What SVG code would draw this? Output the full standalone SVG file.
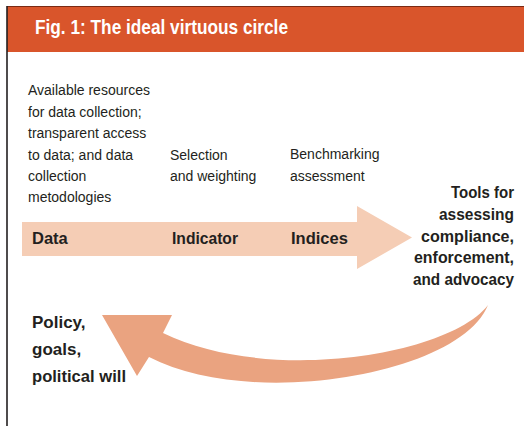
<svg xmlns="http://www.w3.org/2000/svg" width="524" height="426" viewBox="0 0 524 426">
<style>
.t{font-family:"Liberation Sans",Arial,sans-serif;fill:#231F20}
.n{font-size:14px}
.b{font-size:16.5px;font-weight:bold}
.p{font-size:17px;font-weight:bold}
.r{text-anchor:end}
</style>
<rect x="0" y="0" width="524" height="426" fill="#ffffff"/>
<g id="frame">
<rect x="7" y="6" width="517" height="46" fill="#D9552B"/>
<line x1="7" y1="6.5" x2="524" y2="6.5" stroke="#7a2a14" stroke-width="1"/>
<line x1="7" y1="6" x2="7" y2="426" stroke="#231F20" stroke-width="1.6"/>
<text x="35" y="33.5" class="t" style="font-size:21px;font-weight:bold;fill:#ffffff" textLength="253" lengthAdjust="spacingAndGlyphs">Fig. 1: The ideal virtuous circle</text>
</g>
<g id="connectors">
<path id="forward-arrow" d="M22,222 H357 V206 L412,237.5 L357,269 V256 H22 Z" fill="#F5CDB5"/>
<path id="return-arrow" d="M488,305 C450,355 270,385 163,333 L172,315 L102,315 L137,376 L149,357 C250,410 460,375 488,305 Z" fill="#EAA380"/>
</g>
<g id="node-data">
<text class="t n" x="28" y="95">Available resources</text>
<text class="t n" x="28" y="116.5">for data collection;</text>
<text class="t n" x="28" y="138">transparent access</text>
<text class="t n" x="28" y="159.5">to data; and data</text>
<text class="t n" x="28" y="181">collection</text>
<text class="t n" x="28" y="202">metodologies</text>
<text class="t b" x="32" y="243.5">Data</text>
</g>
<g id="node-indicator">
<text class="t n" x="170" y="159.5">Selection</text>
<text class="t n" x="170" y="181">and weighting</text>
<text class="t b" x="172" y="243.5" textLength="66" lengthAdjust="spacingAndGlyphs">Indicator</text>
</g>
<g id="node-indices">
<text class="t n" x="290" y="159">Benchmarking</text>
<text class="t n" x="290" y="180.5">assessment</text>
<text class="t b" x="291" y="243.5">Indices</text>
</g>
<g id="node-tools">
<text class="t b" x="451" y="198" textLength="63" lengthAdjust="spacingAndGlyphs">Tools for</text>
<text class="t b" x="439" y="220" textLength="75" lengthAdjust="spacingAndGlyphs">assessing</text>
<text class="t b" x="421" y="242" textLength="93" lengthAdjust="spacingAndGlyphs">compliance,</text>
<text class="t b" x="414" y="263" textLength="100" lengthAdjust="spacingAndGlyphs">enforcement,</text>
<text class="t b" x="413" y="284.5" textLength="101" lengthAdjust="spacingAndGlyphs">and advocacy</text>
</g>
<g id="node-policy">
<text class="t p" x="32" y="328">Policy,</text>
<text class="t p" x="32" y="355">goals,</text>
<text class="t p" x="32" y="382" textLength="94" lengthAdjust="spacingAndGlyphs">political will</text>
</g>
</svg>
